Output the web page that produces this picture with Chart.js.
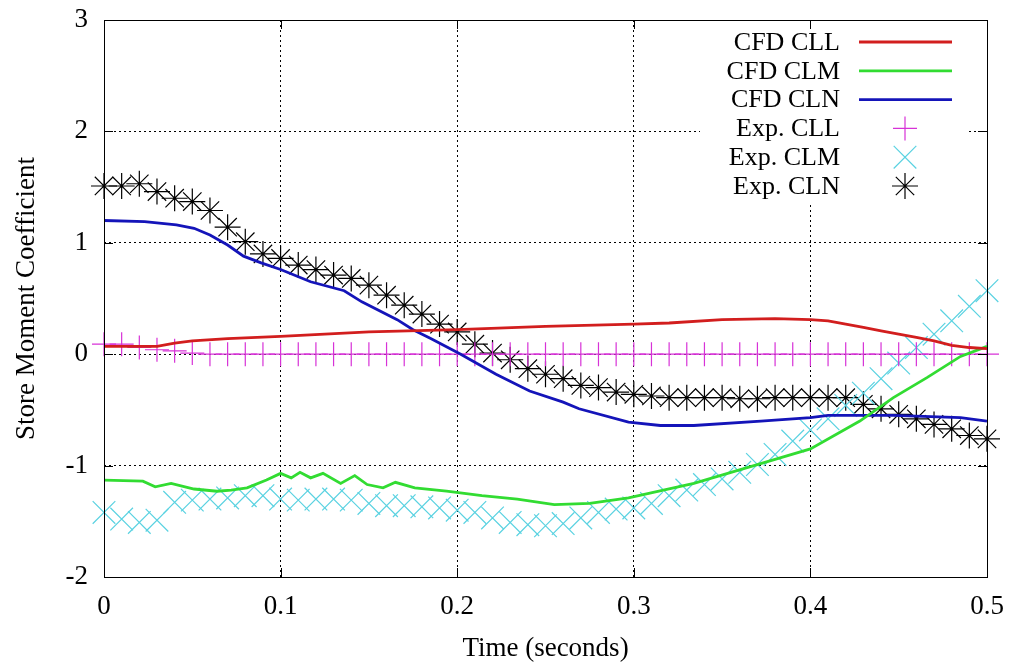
<!DOCTYPE html>
<html>
<head>
<meta charset="utf-8">
<script src="https://cdn.jsdelivr.net/npm/chart.js@4.4.1/dist/chart.umd.min.js"></script>
<style>
  html, body { margin: 0; padding: 0; background: #fff; }
  #wrap { width: 1013px; height: 667px; }
</style>
</head>
<body>
<div id="wrap"><canvas id="myChart" width="1013" height="667"></canvas></div>
<script>
// CFD curves: [time, value]
const cfdCLL = [
    [0, 0.07], [0.03, 0.07], [0.04, 0.10], [0.05, 0.12], [0.07, 0.14], [0.10, 0.16],
    [0.15, 0.20], [0.20, 0.22], [0.25, 0.25], [0.30, 0.27], [0.32, 0.28], [0.35, 0.31],
    [0.38, 0.32], [0.40, 0.31], [0.41, 0.30], [0.42, 0.27], [0.43, 0.24], [0.44, 0.21],
    [0.45, 0.18], [0.46, 0.15], [0.47, 0.12], [0.48, 0.08], [0.49, 0.06], [0.50, 0.05]
];
const cfdCLM = [
    [0, -1.13], [0.022, -1.14], [0.029, -1.19], [0.038, -1.16], [0.051, -1.21], [0.064, -1.23],
    [0.072, -1.22], [0.081, -1.20], [0.092, -1.13], [0.100, -1.07], [0.106, -1.11], [0.111, -1.06],
    [0.117, -1.11], [0.124, -1.07], [0.134, -1.16], [0.142, -1.09], [0.149, -1.17], [0.158, -1.20],
    [0.165, -1.15], [0.176, -1.20], [0.194, -1.23], [0.214, -1.27], [0.234, -1.30], [0.255, -1.35],
    [0.275, -1.34], [0.297, -1.29], [0.334, -1.16], [0.368, -1.00], [0.400, -0.85], [0.428, -0.60],
    [0.447, -0.39], [0.466, -0.21], [0.485, -0.02], [0.500, 0.07]
];
const cfdCLN = [
    [0, 1.20], [0.023, 1.19], [0.041, 1.16], [0.051, 1.13], [0.060, 1.07], [0.070, 0.98],
    [0.079, 0.88], [0.089, 0.82], [0.100, 0.76], [0.117, 0.65], [0.136, 0.57], [0.146, 0.47],
    [0.166, 0.31], [0.175, 0.22], [0.185, 0.14], [0.202, 0.00], [0.222, -0.18], [0.241, -0.33],
    [0.260, -0.43], [0.269, -0.49], [0.297, -0.61], [0.315, -0.64], [0.334, -0.64], [0.372, -0.60],
    [0.400, -0.57], [0.410, -0.55], [0.447, -0.55], [0.485, -0.57], [0.500, -0.60]
];

// experiment samples
const expTime = [
    0, 0.01, 0.02, 0.03, 0.04, 0.05, 0.06, 0.07, 0.08, 0.09,
    0.10, 0.11, 0.12, 0.13, 0.14, 0.15, 0.16, 0.17, 0.18, 0.19,
    0.20, 0.21, 0.22, 0.23, 0.24, 0.25, 0.26, 0.27, 0.28, 0.29,
    0.30, 0.31, 0.32, 0.33, 0.34, 0.35, 0.36, 0.37, 0.38, 0.39,
    0.40, 0.41, 0.42, 0.43, 0.44, 0.45, 0.46, 0.47, 0.48, 0.49, 0.50
];
const expCLL = [
    0.09, 0.09, 0.06, 0.04, 0.03, 0.01, 0, 0, 0, 0,
    0, 0, 0, 0, 0, 0, 0, 0, 0, 0,
    0, 0, 0, 0, 0, 0, 0, 0, 0, 0,
    0, 0, 0, 0, 0, 0, 0, 0, 0, 0,
    0, 0, 0, 0, 0, 0, 0, 0, 0, 0, 0
];
const expCLM = [
    -1.42, -1.48, -1.51, -1.49, -1.33, -1.31, -1.30, -1.29, -1.27, -1.27,
    -1.30, -1.31, -1.30, -1.30, -1.31, -1.34, -1.36, -1.36, -1.37, -1.38,
    -1.40, -1.42, -1.47, -1.51, -1.53, -1.54, -1.52, -1.47, -1.42, -1.39,
    -1.38, -1.34, -1.27, -1.22, -1.17, -1.12, -1.06, -0.99, -0.90, -0.78,
    -0.68, -0.58, -0.46, -0.35, -0.22, -0.08, 0.06, 0.18, 0.30, 0.43, 0.57
];
const expCLN = [
    1.51, 1.51, 1.53, 1.46, 1.40, 1.37, 1.29, 1.14, 1.01, 0.90,
    0.86, 0.80, 0.76, 0.71, 0.68, 0.62, 0.53, 0.44, 0.36, 0.27,
    0.20, 0.09, 0.01, -0.05, -0.13, -0.18, -0.22, -0.28, -0.30, -0.34,
    -0.36, -0.375, -0.39, -0.39, -0.39, -0.39, -0.40, -0.40, -0.39, -0.39,
    -0.39, -0.39, -0.39, -0.45, -0.49, -0.54, -0.58, -0.63, -0.67, -0.73, -0.76
];

const xTicks = [0, 0.1, 0.2, 0.3, 0.4, 0.5];
const yTicks = [-2, -1, 0, 1, 2, 3];

const serif = '"Liberation Serif", "Times New Roman", serif';

const toXY = function(pairs) {
    return pairs.map(function(p) { return {x: p[0], y: p[1]}; });
};
const zipExp = function(vals) {
    return expTime.map(function(t, i) { return {x: t, y: vals[i]}; });
};

const lineSet = function(label, pairs, color) {
    return {
        label: label,
        data: toXY(pairs),
        showLine: true,
        borderColor: color,
        backgroundColor: color,
        borderWidth: 2.8,
        pointRadius: 0,
        tension: 0
    };
};
const markSet = function(label, vals, color, style, radius) {
    return {
        label: label,
        data: zipExp(vals),
        showLine: false,
        pointStyle: style,
        pointRadius: radius,
        pointBorderColor: color,
        pointBackgroundColor: 'rgba(0,0,0,0)',
        pointBorderWidth: 1.2,
        clip: false
    };
};

const datasets = [
    lineSet('CFD CLL', cfdCLL, 'rgb(210,30,30)'),
    lineSet('CFD CLM', cfdCLM, 'rgb(50,220,50)'),
    lineSet('CFD CLN', cfdCLN, 'rgb(20,20,185)'),
    markSet('Exp. CLL', expCLL, 'rgb(215,50,215)', 'cross', 12),
    markSet('Exp. CLM', expCLM, 'rgb(90,210,225)', 'crossRot', 16),
    markSet('Exp. CLN', expCLN, 'rgb(0,0,0)', 'star', 13)
];

// box round the plot, inward tics and the key
const frame = {
    id: 'frame',
    afterDatasetsDraw(chart) {
        const ctx = chart.ctx;
        const a = chart.chartArea;
        ctx.save();
        // key
        ctx.fillStyle = '#fff';
        ctx.fillRect(a.right - 287, a.top + 7, 267, 176);
        ctx.font = '26px ' + serif;
        ctx.textAlign = 'right';
        ctx.textBaseline = 'middle';
        chart.data.datasets.forEach(function(ds, i) {
            const y = a.top + 22 + i * 28.8;
            ctx.fillStyle = '#000';
            ctx.fillText(ds.label, a.right - 147, y + 1);
            if (ds.showLine) {
                ctx.strokeStyle = ds.borderColor;
                ctx.lineWidth = ds.borderWidth;
                ctx.beginPath();
                ctx.moveTo(a.right - 128, y);
                ctx.lineTo(a.right - 35, y);
                ctx.stroke();
            } else {
                ctx.strokeStyle = ds.pointBorderColor;
                ctx.lineWidth = ds.pointBorderWidth;
                Chart.helpers.drawPoint(ctx, {
                    pointStyle: ds.pointStyle,
                    radius: ds.pointRadius,
                    rotation: 0,
                    borderWidth: ds.pointBorderWidth
                }, a.right - 82, y);
            }
        });
        ctx.restore();
    },
    afterDraw(chart) {
        const ctx = chart.ctx;
        const a = chart.chartArea;
        const xs = chart.scales.x;
        const ys = chart.scales.y;
        ctx.save();
        ctx.strokeStyle = '#000';
        ctx.lineWidth = 1;
        ctx.strokeRect(Math.round(a.left) + 0.5, Math.round(a.top) + 0.5,
            Math.round(a.right - a.left), Math.round(a.bottom - a.top));
        ctx.beginPath();
        xTicks.forEach(function(t) {
            const px = Math.round(xs.getPixelForValue(t)) + 0.5;
            ctx.moveTo(px, a.bottom); ctx.lineTo(px, a.bottom - 9);
            ctx.moveTo(px, a.top); ctx.lineTo(px, a.top + 9);
        });
        yTicks.forEach(function(v) {
            const py = Math.round(ys.getPixelForValue(v)) + 0.5;
            ctx.moveTo(a.left, py); ctx.lineTo(a.left + 9, py);
            ctx.moveTo(a.right, py); ctx.lineTo(a.right - 9, py);
        });
        ctx.stroke();
        ctx.restore();
    }
};

const gridOpts = {
    color: '#000',
    lineWidth: 1,
    drawTicks: false
};

const ctx = document.getElementById('myChart');
window.plot = new Chart(ctx, {
    type: 'scatter',
    data: { datasets: datasets },
    options: {
        responsive: false,
        animation: false,
        events: [],
        layout: { padding: { left: 0, right: 26, top: 20, bottom: 0 } },
        plugins: {
            legend: { display: false },
            tooltip: { enabled: false }
        },
        scales: {
            x: {
                type: 'linear',
                min: 0,
                max: 0.5,
                grid: gridOpts,
                border: { display: false, dash: [2, 3] },
                afterBuildTicks: function(scale) {
                    scale.ticks = xTicks.map(function(v) { return {value: v}; });
                },
                afterFit: function(scale) {
                    scale.height = 90;
                    scale.paddingLeft = 0;
                    scale.paddingRight = 0;
                },
                ticks: {
                    color: '#000',
                    padding: 14,
                    maxRotation: 0,
                    font: { family: serif, size: 27 },
                    callback: function(v) { return String(v); }
                },
                title: {
                    display: true,
                    text: 'Time (seconds)',
                    color: '#000',
                    font: { family: serif, size: 27 },
                    padding: { top: 0, bottom: 2 }
                }
            },
            y: {
                type: 'linear',
                min: -2,
                max: 3,
                grid: gridOpts,
                border: { display: false, dash: [2, 3] },
                afterBuildTicks: function(scale) {
                    scale.ticks = yTicks.map(function(v) { return {value: v}; });
                },
                afterFit: function(scale) {
                    scale.width = 104;
                    scale.paddingTop = 0;
                    scale.paddingBottom = 0;
                },
                ticks: {
                    color: '#000',
                    padding: 16,
                    font: { family: serif, size: 27 },
                    callback: function(v) { return String(v); }
                },
                title: {
                    display: true,
                    text: 'Store Moment Coefficient',
                    color: '#000',
                    font: { family: serif, size: 27 },
                    padding: { top: 11, bottom: 0 }
                }
            }
        }
    },
    plugins: [frame]
});
</script>
</body>
</html>
